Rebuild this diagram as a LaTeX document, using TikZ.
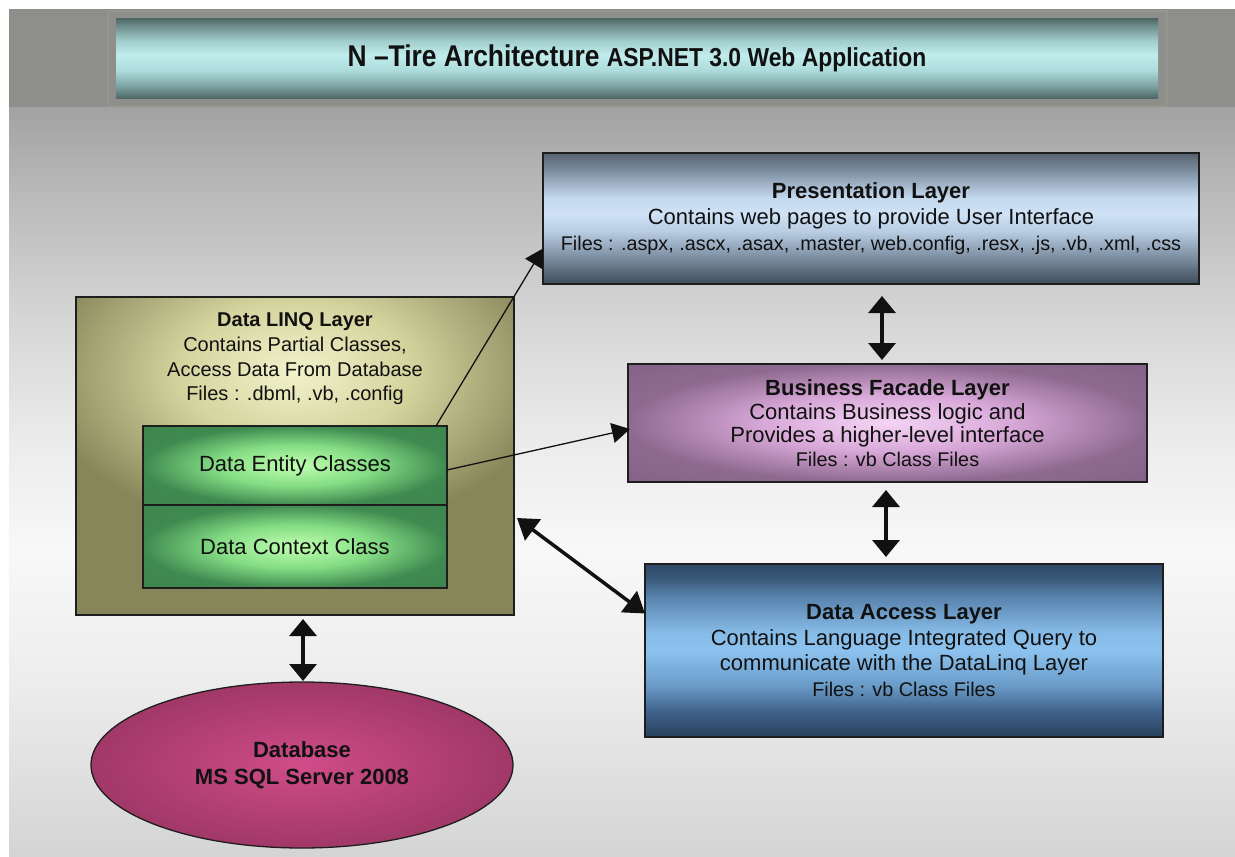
\documentclass[tikz,border=0pt]{standalone}
\usepackage{fontspec}
\usepackage{graphicx}
\setmainfont{Liberation Sans}
\usetikzlibrary{arrows.meta,shapes.geometric}

\definecolor{bandgray}{HTML}{8E8F8A}
\definecolor{framegray}{HTML}{94958F}
\definecolor{bg1}{HTML}{A2A2A2}
\definecolor{bg2}{HTML}{BBBBBB}
\definecolor{bg3}{HTML}{D6D6D6}
\definecolor{bg4}{HTML}{EDEDED}
\definecolor{bg5}{HTML}{F8F8F8}
\definecolor{bg6}{HTML}{EDEDED}
\definecolor{bg7}{HTML}{D4D4D4}

\definecolor{t1}{HTML}{4F6868}
\definecolor{t2}{HTML}{7FA6A6}
\definecolor{t3}{HTML}{AEDCDC}
\definecolor{t4}{HTML}{C0ECEC}
\definecolor{t5}{HTML}{A0CCCC}
\definecolor{t6}{HTML}{6B8A88}
\definecolor{t7}{HTML}{4C6462}

\definecolor{p1}{HTML}{3E4B58}
\definecolor{p2}{HTML}{6F8092}
\definecolor{p3}{HTML}{B8CCE2}
\definecolor{p4}{HTML}{CFE2F6}
\definecolor{p5}{HTML}{C4D8EE}
\definecolor{p6}{HTML}{8597AA}
\definecolor{p7}{HTML}{56616E}

\definecolor{d1}{HTML}{27405C}
\definecolor{d2}{HTML}{3E6088}
\definecolor{d3}{HTML}{6A9CC8}
\definecolor{d4}{HTML}{8CC2EE}
\definecolor{d5}{HTML}{88BCE8}
\definecolor{d6}{HTML}{5A86B0}
\definecolor{d7}{HTML}{3A5878}
\definecolor{d8}{HTML}{2E4A68}

\definecolor{olive}{HTML}{86865A}
\definecolor{lin1}{HTML}{F2F2CC}
\definecolor{lin2}{HTML}{D4D49E}
\definecolor{lin3}{HTML}{86865A}

\definecolor{g1}{HTML}{C0FFB0}
\definecolor{g2}{HTML}{84DC84}
\definecolor{g3}{HTML}{3F8A50}
\definecolor{g4}{HTML}{3A7E4A}

\definecolor{b1}{HTML}{F4D4F4}
\definecolor{b2}{HTML}{D8A8D8}
\definecolor{b3}{HTML}{8E6A90}
\definecolor{b4}{HTML}{76587A}

\definecolor{m1}{HTML}{D04C88}
\definecolor{m2}{HTML}{A03868}
\definecolor{m3}{HTML}{962E5C}

\definecolor{ink}{HTML}{111111}
\definecolor{edge}{HTML}{1E1E1E}

\pgfdeclareverticalshading{bgsh}{100bp}{color(0bp)=(bg7); color(25bp)=(bg7); color(36.8bp)=(bg6); color(45.5bp)=(bg5); color(52.1bp)=(bg4); color(60.8bp)=(bg3); color(68.8bp)=(bg2); color(75bp)=(bg1); color(100bp)=(bg1)}
\pgfdeclareverticalshading{titlesh}{100bp}{color(0bp)=(t1); color(25bp)=(t1); color(33bp)=(t2); color(42.5bp)=(t3); color(52bp)=(t4); color(61bp)=(t5); color(70.5bp)=(t6); color(75bp)=(t7); color(100bp)=(t7)}
\pgfdeclareverticalshading{pressh}{100bp}{color(0bp)=(p1); color(25bp)=(p1); color(33bp)=(p2); color(45bp)=(p3); color(52bp)=(p4); color(58bp)=(p5); color(67bp)=(p6); color(75bp)=(p7); color(100bp)=(p7)}
\pgfdeclareverticalshading{dash}{100bp}{color(0bp)=(d1); color(25bp)=(d1); color(32bp)=(d2); color(40bp)=(d3); color(50bp)=(d4); color(55bp)=(d5); color(65bp)=(d6); color(71bp)=(d7); color(75bp)=(d8); color(100bp)=(d8)}
\pgfdeclareradialshading{linqsh}{\pgfpoint{0bp}{0bp}}{color(0bp)=(lin1); color(11bp)=(lin2); color(25bp)=(lin3); color(50bp)=(lin3)}
\pgfdeclareradialshading{greensh}{\pgfpoint{0bp}{0bp}}{color(0bp)=(g1); color(13bp)=(g2); color(25bp)=(g3); color(50bp)=(g4)}
\pgfdeclareradialshading{bussh}{\pgfpoint{0bp}{0bp}}{color(0bp)=(b1); color(12bp)=(b2); color(25bp)=(b3); color(50bp)=(b4)}
\pgfdeclareradialshading{dbsh}{\pgfpoint{0bp}{0bp}}{color(0bp)=(m1); color(25bp)=(m2); color(50bp)=(m3)}

\newcommand{\filesfont}{\fontsize{19.8}{24}\selectfont}

\begin{document}
\begin{tikzpicture}[x=1pt,y=-1pt,
  layerbox/.style={draw=edge, line width=1.4pt, shade, outer sep=0pt, inner sep=2pt,
    align=center, text=ink},
  dblarr/.style={draw=ink, line width=3.5pt,
    {Triangle[length=17pt,width=27pt]}-{Triangle[length=17pt,width=27pt]}},
  diagarr/.style={draw=ink, line width=3.5pt,
    {Triangle[length=20pt,width=26pt]}-{Triangle[length=20pt,width=26pt]}},
  thinarr/.style={draw=ink, line width=1.3pt, -{Triangle[length=18pt,width=20pt]}}
]
\useasboundingbox (0,0) rectangle (1235,857);
\fill[white] (0,0) rectangle (1235,857);
\fill[bandgray] (9,9) rectangle (1235,107);
\shade[shading=bgsh] (9,107) rectangle (1235,857);
\fill[framegray] (107,10) rectangle (1168,107);
\fill[bandgray] (109,12) rectangle (1166,105);

% title
\node[shade, shading=titlesh, minimum width=1042pt, minimum height=80pt, outer sep=0pt, text=ink] (title) at (637,58)
  {\scalebox{0.88}[1]{\bfseries\fontsize{30}{32}\selectfont N –Tire Architecture \fontsize{26}{32}\selectfont ASP.NET 3.0 Web Application}};

% presentation
\node[layerbox, shading=pressh, minimum width=656pt, minimum height=131pt,
  font=\fontsize{22}{26}\selectfont] (pres) at (871,218.5)
  {\textbf{Presentation Layer}\\Contains web pages to provide User Interface\\{\filesfont Files : .aspx, .ascx, .asax, .master, web.config, .resx, .js, .vb, .xml, .css}};

% business
\node[layerbox, shading=bussh, minimum width=519pt, minimum height=118pt,
  font=\fontsize{22}{23.5}\selectfont] (bus) at (887.5,423)
  {\textbf{Business Facade Layer}\\Contains Business logic and\\Provides a higher-level interface\\{\filesfont Files : vb Class Files}};

% data access
\node[layerbox, shading=dash, minimum width=518pt, minimum height=173pt,
  font=\fontsize{22}{25.5}\selectfont] (da) at (904,650.5)
  {\textbf{Data Access Layer}\\Contains Language Integrated Query to\\communicate with the DataLinq Layer\\{\filesfont Files : vb Class Files}};

% LINQ layer
\node[fill=olive, minimum width=438pt, minimum height=318pt, outer sep=0pt] (linq) at (295,456) {};
\begin{scope}
  \clip (linq.north west) rectangle (linq.south east);
  \shade[shading=linqsh] (295,372) ellipse (260 and 160);
\end{scope}
\draw[edge, line width=1.4pt] (linq.north west) rectangle (linq.south east);
\node[align=center, text=ink, font=\fontsize{20}{24.7}\selectfont] (linqtxt) at (295,359)
  {\textbf{Data LINQ Layer}\\Contains Partial Classes,\\Access Data From Database\\Files : .dbml, .vb, .config};

\node[layerbox, shading=greensh, minimum width=304pt, minimum height=79pt,
  font=\fontsize{22}{24}\selectfont] (entity) at (295,465.5) {Data Entity Classes};
\node[layerbox, shading=greensh, minimum width=304pt, minimum height=83pt,
  font=\fontsize{22}{24}\selectfont] (context) at (295,546.5) {Data Context Class};

% database
\node[ellipse, draw=edge, line width=1.3pt, shade, shading=dbsh, minimum width=422pt, minimum height=166pt,
  align=center, text=ink, font=\bfseries\fontsize{22}{27}\selectfont, outer sep=0pt] (db) at (302,765)
  {Database\\MS SQL Server 2008};

% connectors
\draw[dblarr] ([xshift=11pt,yshift=-12pt]pres.south) -- ([xshift=-5.5pt,yshift=4pt]bus.north);
\draw[dblarr] ([xshift=-1.5pt,yshift=-8pt]bus.south) -- ([xshift=-18pt,yshift=7pt]da.north);
\draw[dblarr] ([xshift=8pt,yshift=-4pt]linq.south) -- ([xshift=1pt,yshift=1pt]db.north);
\draw[diagarr] ([xshift=3pt,yshift=-62pt]linq.east) -- ([yshift=37pt]da.west);
\draw[thinarr] ([xshift=-11pt]entity.north east) -- ([yshift=-30pt]pres.west);
\draw[thinarr] ([yshift=-4.5pt]entity.east) -- ([xshift=2pt,yshift=-6pt]bus.west);
\end{tikzpicture}
\end{document}
